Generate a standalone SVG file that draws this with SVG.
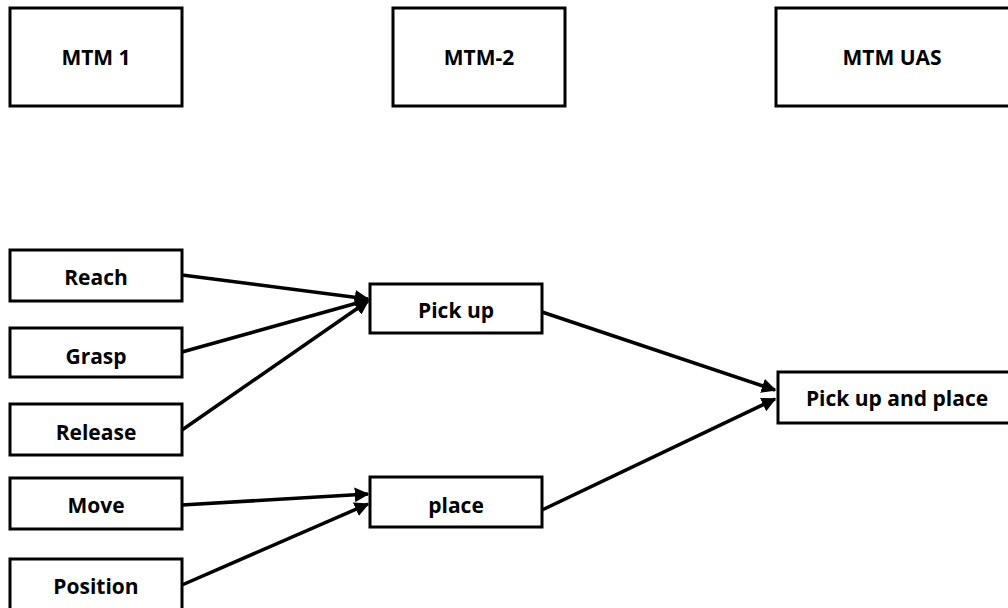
<svg xmlns="http://www.w3.org/2000/svg" width="1008" height="608" viewBox="0 0 1008 608">
<style>
.box{fill:#fff;stroke:#000;stroke-width:3}
.lbl{font-family:"Open Sans","Liberation Sans",sans-serif;font-weight:bold;font-size:21px;fill:#000;text-anchor:middle;dominant-baseline:central}
.edge{stroke:#000;stroke-width:3.5;fill:none;marker-end:url(#ah)}
</style>
<defs>
<marker id="ah" viewBox="0 0 10 10" refX="9" refY="5" markerWidth="4.2" markerHeight="4.2" orient="auto" markerUnits="strokeWidth">
<path d="M0,0 L10,5 L0,10 z" fill="#000"/>
</marker>
</defs>
<rect width="1008" height="608" fill="#fff"/>
<g id="connectors">
<line class="edge" x1="182" y1="275" x2="368" y2="299"/>
<line class="edge" x1="182" y1="352" x2="368" y2="300"/>
<line class="edge" x1="182" y1="430" x2="368" y2="301"/>
<line class="edge" x1="182" y1="505" x2="368" y2="494"/>
<line class="edge" x1="182" y1="585" x2="368" y2="504"/>
<line class="edge" x1="542" y1="312" x2="775" y2="390"/>
<line class="edge" x1="542" y1="510" x2="775" y2="399"/>
</g>
<g id="mtm1"><rect class="box" x="10" y="8" width="172" height="98"/><text class="lbl" x="96" y="57">MTM 1</text></g>
<g id="mtm2"><rect class="box" x="393" y="8" width="172" height="98"/><text class="lbl" x="479" y="57">MTM-2</text></g>
<g id="mtmuas"><rect class="box" x="776" y="8" width="240" height="98"/><text class="lbl" x="892" y="57">MTM UAS</text></g>
<g id="reach"><rect class="box" x="10" y="250" width="172" height="51"/><text class="lbl" x="96" y="277">Reach</text></g>
<g id="grasp"><rect class="box" x="10" y="328" width="172" height="49"/><text class="lbl" x="96" y="356">Grasp</text></g>
<g id="release"><rect class="box" x="10" y="404" width="172" height="51"/><text class="lbl" x="96" y="432">Release</text></g>
<g id="move"><rect class="box" x="10" y="478" width="172" height="51"/><text class="lbl" x="96" y="505">Move</text></g>
<g id="position"><rect class="box" x="10" y="559" width="172" height="60"/><text class="lbl" x="96" y="586">Position</text></g>
<g id="pickup"><rect class="box" x="370" y="284" width="172" height="49"/><text class="lbl" x="456" y="310">Pick up</text></g>
<g id="place"><rect class="box" x="370" y="477" width="172" height="50"/><text class="lbl" x="456" y="505">place</text></g>
<g id="pickupandplace"><rect class="box" x="778" y="372" width="240" height="51"/><text class="lbl" x="897" y="398">Pick up and place</text></g>
</svg>
